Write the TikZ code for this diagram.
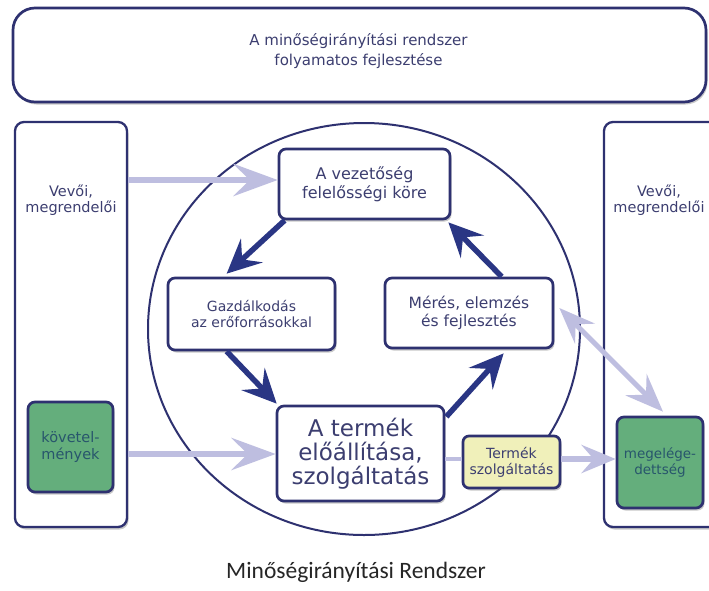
\documentclass[tikz,border=0pt]{standalone}
\usepackage{fontspec}
\setmainfont{DejaVu Sans}
\newfontfamily\capfont{Carlito}
\usetikzlibrary{arrows.meta,shadows,calc,shapes.geometric}
\definecolor{navy}{RGB}{46,49,112}
\definecolor{darkarr}{RGB}{42,54,132}
\definecolor{lightarr}{RGB}{190,190,224}
\definecolor{txt}{RGB}{60,62,112}
\definecolor{greenbox}{RGB}{100,174,124}
\definecolor{greentxt}{RGB}{40,86,108}
\definecolor{yellowbox}{RGB}{240,240,186}
\begin{document}
\begin{tikzpicture}[x=1pt,y=-1pt,
  shad/.style={drop shadow={shadow xshift=1.5pt,shadow yshift=-2.5pt,opacity=0.3,fill=black!70}},
  box/.style={draw=navy,line width=2.7pt,fill=white,rounded corners=7pt,inner sep=0pt,align=center,text=txt,shad},
  colbox/.style={draw=navy,line width=2.3pt,fill=white,rounded corners=9pt,inner sep=0pt,shad},
  greenb/.style={box,fill=greenbox,text=greentxt},
  yellowb/.style={box,fill=yellowbox},
  lightarrow/.style={draw=lightarr,line width=6.5pt,-{Stealth[length=44pt,width=32pt,inset=16pt]}},
  lightarrowsmall/.style={draw=lightarr,line width=5.5pt,-{Stealth[length=34pt,width=28pt,inset=12pt]}},
  darkarrow/.style={draw=darkarr,line width=5.5pt,-{Stealth[length=34pt,width=32pt,inset=13pt]}},
  lbl/.style={align=center,text=txt,inner sep=0pt}]
\useasboundingbox[fill=white] (0,0) rectangle (709,590);

% top box
\node[box,rounded corners=22pt,minimum width=693pt,minimum height=94pt] (top) at (359.5,55) {};
\node[lbl,font=\fontsize{15}{20}\selectfont] (toptxt) at (358.5,51) {A minőségirányítási rendszer\\folyamatos fejlesztése};

% columns
\node[colbox,minimum width=112pt,minimum height=405pt] (lcol) at (71,324.5) {};
\node[colbox,minimum width=120pt,minimum height=405pt] (rcol) at (664,324.5) {};
\node[lbl,font=\fontsize{14.5}{16}\selectfont] (ltxt) at (71,200) {Vevői,\\megrendelői};
\node[lbl,font=\fontsize{14.5}{16}\selectfont] (rtxt) at (659,200) {Vevői,\\megrendelői};

% circle
\node[draw=navy,line width=2pt,ellipse,minimum width=432pt,minimum height=412pt,inner sep=0pt] (circ) at (364,329) {};

% boxes
\node[box,minimum width=171pt,minimum height=70pt,font=\fontsize{16}{19}\selectfont] (vez) at (364.5,184) {A vezetőség\\felelősségi köre};
\node[box,minimum width=167pt,minimum height=72pt,font=\fontsize{14}{16.5}\selectfont] (gaz) at (251.5,314) {Gazdálkodás\\az erőforrásokkal};
\node[box,minimum width=168pt,minimum height=70pt,font=\fontsize{15.5}{18}\selectfont] (mer) at (469,313) {Mérés, elemzés\\és fejlesztés};
\node[box,minimum width=167pt,minimum height=95pt,font=\fontsize{23}{24}\selectfont] (term) at (360.5,453.5) {A termék\\előállítása,\\szolgáltatás};
\node[yellowb,minimum width=97pt,minimum height=52pt,rounded corners=6pt,font=\fontsize{14}{16}\selectfont] (yel) at (511.5,462) {Termék\\szolgáltatás};
\node[greenb,minimum width=85pt,minimum height=90pt,font=\fontsize{14.5}{17}\selectfont] (kov) at (70.5,447) {követel-\\mények};
\node[greenb,minimum width=86pt,minimum height=91pt,font=\fontsize{13.5}{16}\selectfont] (meg) at (660,462.5) {megelége-\\dettség};

% light arrows
\draw[lightarrow] (lcol.east |- 0,180) -- (vez.west |- 0,180);
\draw[lightarrow] (lcol.east |- 0,454) -- (term.west |- 0,454);
\draw[draw=lightarr,line width=4pt] (term.east |- 0,459) -- (yel.west |- 0,459);
\draw[lightarrowsmall] (yel.east |- 0,459) -- (meg.west |- 0,459);
\draw[draw=lightarr,line width=5pt,{Stealth[length=36pt,width=28pt,inset=13pt]}-{Stealth[length=38pt,width=30pt,inset=14pt]}] ($(mer.east)+(5,-5)$) -- ($(meg.north)+(3,-4)$);

% dark cycle arrows
\draw[darkarrow] ($(vez.south west)+(7,0)$) -- ($(gaz.north west)+(60,-3)$);
\draw[darkarrow] ($(gaz.south west)+(60,0)$) -- ($(term.north west)+(1,-1)$);
\draw[darkarrow] ($(term.north east)+(1,12)$) -- ($(mer.south west)+(120,4)$);
\draw[darkarrow] ($(mer.north west)+(118,0)$) -- ($(vez.south east)+(-3,2)$);

% caption
\node[inner sep=0pt,text=black!85,font=\capfont\fontsize{23.5}{28}\selectfont] (cap) at (356,572) {Minőségirányítási Rendszer};
\end{tikzpicture}
\end{document}
